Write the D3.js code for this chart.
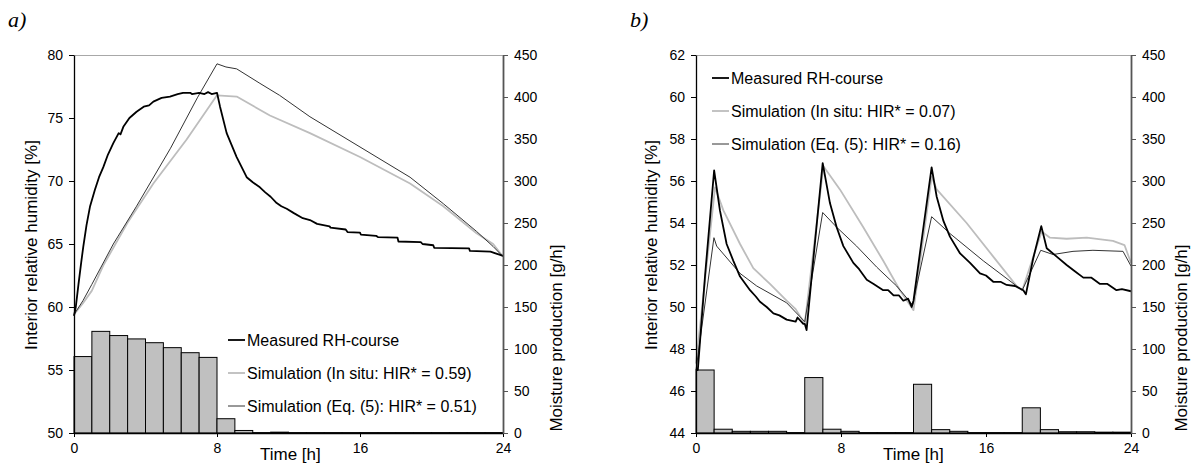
<!DOCTYPE html>
<html lang="en">
<head>
<meta charset="UTF-8">
<title>Interior RH courses</title>
<style>
  body { margin: 0; background: #fff; }
  svg text { font-family: "Liberation Sans", Arial, sans-serif; fill: #000; }
  .tick text { font-size: 14px; }
  .panel-label { font-family: "Liberation Serif", "Times New Roman", serif; font-style: italic; font-size: 22px; }
</style>
</head>
<body>
<script src="https://d3js.org/d3.v7.min.js"></script>
<script>
// ---- data ----
var timeTicks = [0, 8, 16, 24];
var prodTicks = [0, 50, 100, 150, 200, 250, 300, 350, 400, 450];
var rhTicksA = [50, 55, 60, 65, 70, 75, 80];
var rhTicksB = [44, 46, 48, 50, 52, 54, 56, 58, 60, 62];
var legendLabelsA = ['Measured RH-course', 'Simulation (In situ: HIR* = 0.59)', 'Simulation (Eq. (5): HIR* = 0.51)'];
var legendLabelsB = ['Measured RH-course', 'Simulation (In situ: HIR* = 0.07)', 'Simulation (Eq. (5): HIR* = 0.16)'];

// hourly moisture production [g/h], bar i covers hour i..i+1
var productionA = [91, 121, 116, 112, 107.5, 101.6, 95.6, 90, 17, 3, 0.5, 1, 0.5, 0.5, 0.5, 0.5, 0.5, 0.5, 0.5, 0.5, 0.5, 0.5, 0.5, 0.5];
var productionB = [75, 4.5, 2, 2, 2, 0.5, 66, 4.5, 2, 0.5, 0.5, 0.5, 58, 4, 2, 0.5, 0.5, 0.5, 30, 4, 1.5, 1.5, 1, 1];

// [time h, RH %]
var measuredA = [[0,59.3],[0.1,60.0],[0.25,61.8],[0.4,63.5],[0.52,64.8],[0.7,66.5],[0.9,68.0],[1.17,69.3],[1.4,70.3],[1.64,71.1],
  [1.9,72.1],[2.2,73.0],[2.5,73.8],[2.6,73.7],[2.76,74.3],[3.1,75.0],[3.5,75.5],[3.9,75.9],[4.2,76.0],[4.44,76.3],
  [4.9,76.6],[5.37,76.7],[5.8,76.9],[6.1,77.0],[6.5,77.0],[6.6,76.9],[7.0,77.0],[7.3,76.9],[7.5,77.05],[7.7,76.9],[8.0,77.0],
  [8.17,75.9],[8.54,73.8],[9.1,71.9],[9.66,70.3],[10.0,69.9],[10.4,69.5],[10.7,69.1],[11.0,68.75],[11.3,68.3],[11.6,68.0],[11.9,67.8],
  [12.3,67.45],[12.8,67.05],[13.2,66.9],[13.6,66.6],[14.3,66.4],[14.35,66.3],[15.2,66.15],[15.3,65.95],[16.0,65.9],[16.05,65.75],
  [16.9,65.65],[17.0,65.55],[18.1,65.5],[18.15,65.2],[19.4,65.15],[19.5,65.0],[20.1,64.9],[20.15,64.7],[22.1,64.65],[22.15,64.45],
  [23.3,64.4],[23.5,64.3],[24,64.05]];
var inSituA = [[0,59.4],[0.5,60.3],[1.0,61.3],[1.64,63.3],[3.0,66.7],[4.44,69.8],[6.3,73.3],[8,76.8],[9.1,76.7],[10.96,75.2],
  [13.2,73.8],[16,71.9],[18.8,69.8],[20.66,68.0],[22.52,65.85],[23.45,65.0],[24,64.0]];
var eq5A = [[0,59.4],[0.5,60.5],[1.0,61.8],[2.2,65.0],[3.5,68.0],[5.4,72.6],[6.9,76.6],[8,79.3],[8.5,79.05],[9.1,78.9],[10.4,77.75],
  [11.5,76.8],[13.2,75.1],[16,72.7],[18.8,70.3],[20.66,68.2],[22.52,66.0],[23.45,64.8],[24,64.0]];

var measuredB = [[0,47.0],[0.1,47.0],[0.5,51.5],[0.8,54.5],[1.0,56.5],[1.32,54.6],[1.69,53.0],[2.06,52.2],[2.43,51.45],[2.98,50.8],
  [3.3,50.5],[3.53,50.25],[3.9,50.0],[4.27,49.7],[4.6,49.6],[5.0,49.4],[5.5,49.3],[5.6,49.5],[5.92,49.2],[6.0,49.2],[6.1,48.9],
  [6.5,52.5],[6.99,56.85],[7.39,54.95],[7.76,53.8],[8.13,52.9],[8.68,52.1],[9.0,51.8],[9.42,51.3],[9.8,51.1],[10.33,50.8],[10.6,50.8],
  [10.9,50.55],[11.2,50.55],[11.44,50.3],[11.7,50.4],[11.9,50.0],[12.0,50.3],[12.5,53.5],[13.0,56.65],[13.28,55.25],[13.65,54.1],
  [14.01,53.35],[14.57,52.55],[15.12,52.1],[15.67,51.6],[16.0,51.5],[16.4,51.2],[16.8,51.2],[17.14,51.05],[17.6,51.0],[18.06,50.8],
  [18.2,50.6],[18.6,52.3],[19.05,53.85],[19.35,52.8],[19.9,52.4],[20.45,52.0],[20.9,51.7],[21.37,51.4],[21.8,51.4],[22.29,51.1],
  [22.7,51.1],[23.2,50.8],[23.5,50.85],[24,50.75]];
var inSituB = [[0,47.3],[1.05,55.7],[1.51,54.6],[2.43,53.0],[3.16,51.85],[4.08,51.1],[5.0,50.3],[5.5,49.9],[6.0,49.2],[7.03,56.7],
  [7.94,55.6],[9.23,53.8],[10.33,52.2],[11.25,50.8],[12.0,49.85],[13.0,56.2],[13.28,55.6],[14.93,54.0],[16.4,52.4],[17.69,51.0],
  [18.0,50.8],[19.07,53.6],[19.53,53.3],[20.45,53.25],[21.56,53.3],[23.0,53.15],[23.64,52.95],[24,52.1]];
var eq5B = [[0,47.0],[0.99,53.3],[1.14,52.9],[2.43,51.6],[3.35,51.0],[5.0,50.2],[6.0,49.3],[6.99,54.5],[7.76,53.8],[8.86,52.9],
  [9.97,51.9],[11.07,51.0],[11.95,50.1],[13.0,54.3],[14.01,53.5],[15.85,52.2],[17.69,51.0],[18.0,50.8],[19.02,52.7],[19.7,52.5],
  [20.8,52.65],[21.9,52.7],[23.56,52.65],[24,51.95]];

// ---- drawing ----
var svg = d3.select('body').append('svg')
    .attr('width', 1196)
    .attr('height', 465);

var styles = [
  { color: '#000', width: 1.8 },
  { color: '#bdbdbd', width: 1.8 },
  { color: '#333', width: 1 }
];

function drawPanel(p) {
    var g = svg.append('g');
    var x = d3.scaleLinear().domain([0, 24]).range([p.left, p.right]);
    var y = d3.scaleLinear().domain(p.rhDomain).range([433, 55]);
    var y2 = d3.scaleLinear().domain([0, 450]).range([433, 55]);

    // top frame line
    g.append('line')
     .attr('x1', p.left).attr('x2', p.right)
     .attr('y1', 55.5).attr('y2', 55.5)
     .attr('stroke', '#a8a8a8').attr('stroke-width', 1.2);

    // bars
    g.selectAll('rect.bar')
     .data(p.production)
     .enter()
     .append('rect')
     .attr('class', 'bar')
     .attr('x', function(d, i) { return x(i); })
     .attr('width', function(d, i) { return x(i + 1) - x(i); })
     .attr('y', function(d) { return y2(d); })
     .attr('height', function(d) { return 433 - y2(d); })
     .attr('fill', '#c0c0c0')
     .attr('stroke', '#000')
     .attr('stroke-width', 1);

    var line = d3.line()
                 .x(function(d) { return x(d[0]); })
                 .y(function(d) { return y(d[1]); })
                 .curve(d3.curveLinear);

    [p.inSitu, p.eq5, p.measured].forEach(function(series, k) {
        var st = styles[[1, 2, 0][k]];
        g.append('path')
         .attr('d', line(series))
         .attr('fill', 'none')
         .attr('stroke', st.color)
         .attr('stroke-width', st.width)
         .attr('stroke-linejoin', 'round');
    });

    // axes
    var xAxis = d3.axisBottom(x).tickValues(timeTicks).tickSize(4).tickSizeOuter(0).tickPadding(6);
    var gx = g.append('g').attr('transform', 'translate(0,433)').call(xAxis);
    gx.select('.domain').attr('stroke', '#000').attr('stroke-width', 1.5);

    var yAxis = d3.axisLeft(y).tickValues(p.rhTicks).tickSize(5).tickSizeOuter(0).tickPadding(6);
    var gy = g.append('g').attr('transform', 'translate(' + p.left + ',0)').call(yAxis);
    gy.select('.domain').attr('stroke', '#000').attr('stroke-width', 1.3);

    var y2Axis = d3.axisRight(y2).tickValues(prodTicks).tickSize(5).tickSizeOuter(0).tickPadding(6);
    var gy2 = g.append('g').attr('transform', 'translate(' + p.right + ',0)').call(y2Axis);
    gy2.select('.domain').attr('stroke', '#555').attr('stroke-width', 1.8);
    gy2.selectAll('.tick line').attr('stroke', '#555');

    g.selectAll('.tick text').attr('fill', '#000');

    // axis titles
    g.append('text')
     .attr('transform', 'translate(' + p.yTitleX + ',245) rotate(-90)')
     .attr('text-anchor', 'middle')
     .attr('dy', '0.35em')
     .style('font-size', '17px')
     .text('Interior relative humidity [%]');

    g.append('text')
     .attr('transform', 'translate(' + p.y2TitleX + ',338) rotate(-90)')
     .attr('text-anchor', 'middle')
     .attr('dy', '0.35em')
     .style('font-size', '17px')
     .text('Moisture production [g/h]');

    g.append('text')
     .attr('x', p.xTitleX)
     .attr('y', 460)
     .style('font-size', '17px')
     .text('Time [h]');

    // legend
    var leg = g.selectAll('g.leg')
               .data(p.legend)
               .enter()
               .append('g')
               .attr('class', 'leg')
               .attr('transform', function(d, i) {
                   return 'translate(' + p.legX + ',' + (p.legY + i * 33) + ')';
               });
    leg.append('line')
       .attr('x1', 0).attr('x2', 17)
       .attr('y1', 0).attr('y2', 0)
       .attr('stroke', function(d, i) { return styles[i].color; })
       .attr('stroke-width', function(d, i) { return styles[i].width; });
    leg.append('text')
       .attr('x', 19)
       .attr('dy', '0.35em')
       .style('font-size', '16px')
       .text(function(d) { return d; });

    svg.append('text')
       .attr('class', 'panel-label')
       .attr('x', p.labelX)
       .attr('y', 27)
       .text(p.label);
}

drawPanel({
    left: 74, right: 503, rhDomain: [50, 80], rhTicks: rhTicksA,
    production: productionA, measured: measuredA, inSitu: inSituA, eq5: eq5A,
    legend: legendLabelsA, legX: 228, legY: 340,
    yTitleX: 31, y2TitleX: 556, xTitleX: 260, labelX: 8, label: 'a)'
});

drawPanel({
    left: 696, right: 1131, rhDomain: [44, 62], rhTicks: rhTicksB,
    production: productionB, measured: measuredB, inSitu: inSituB, eq5: eq5B,
    legend: legendLabelsB, legX: 712, legY: 78,
    yTitleX: 651, y2TitleX: 1181, xTitleX: 883, labelX: 630, label: 'b)'
});
</script>
</body>
</html>
